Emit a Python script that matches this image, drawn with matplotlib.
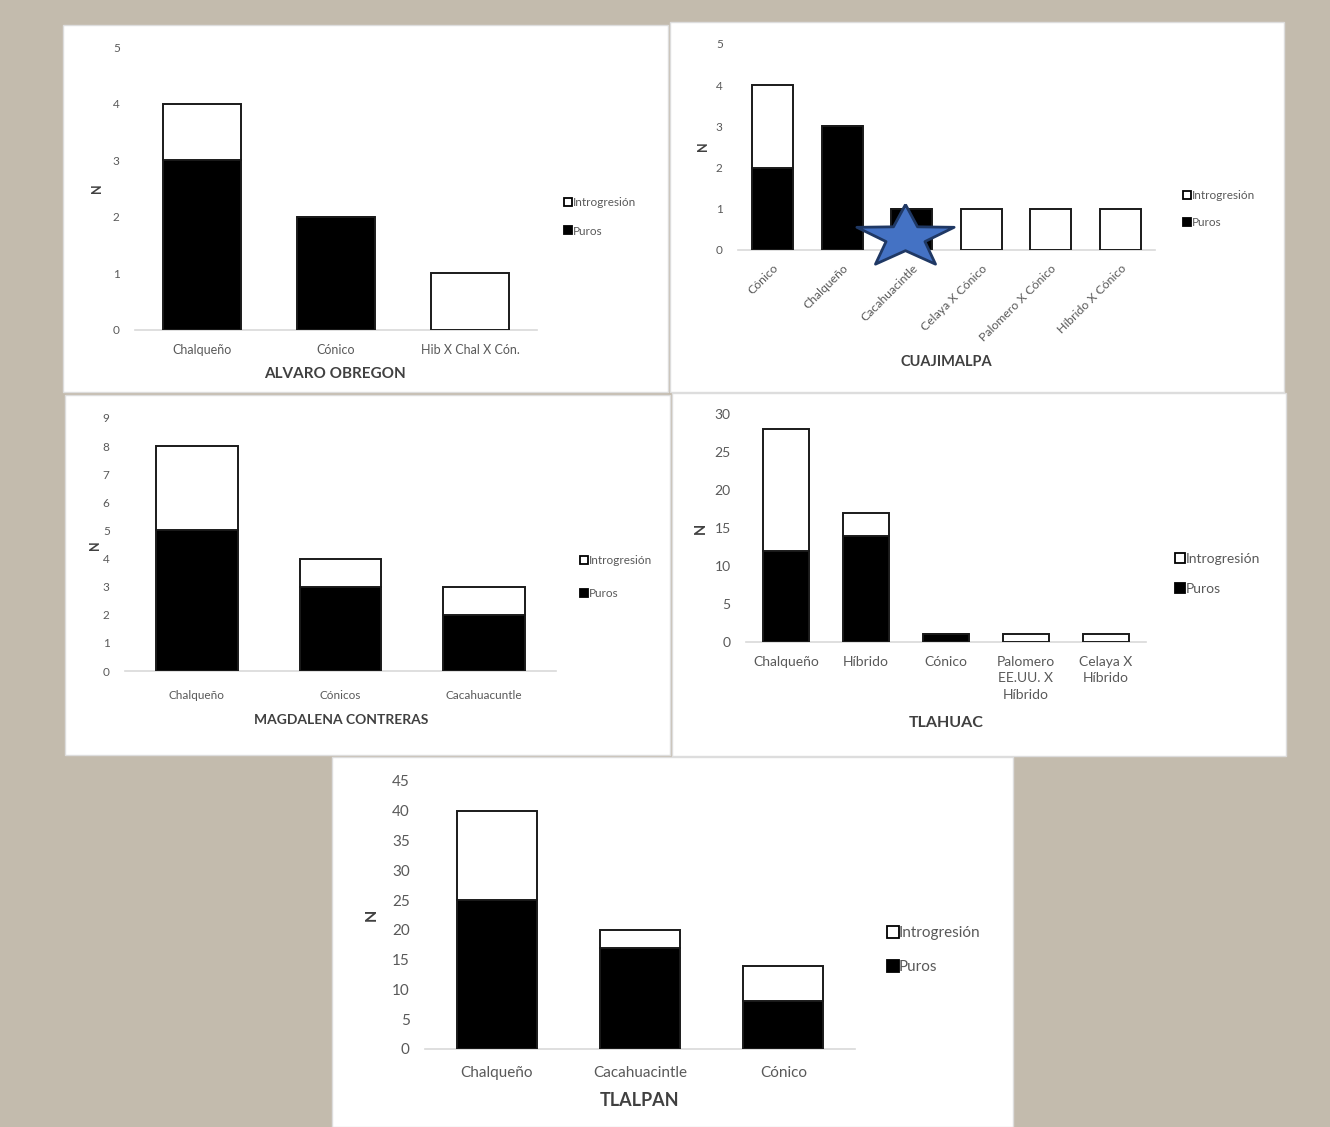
import matplotlib
matplotlib.use('Agg')
import matplotlib.pyplot as plt
from matplotlib.lines import Line2D
from matplotlib.patches import Rectangle
from matplotlib import font_manager
import numpy as np

# ---------------- data ----------------
legend_labels = ['Introgresión', 'Puros']

ao_cats = ['Chalqueño', 'Cónico', 'Hib X Chal X Cón.']
ao_puros = [3, 2, 0]
ao_intro = [1, 0, 1]

cu_cats = ['Cónico', 'Chalqueño', 'Cacahuacintle', 'Celaya X Cónico',
           'Palomero X Cónico', 'Híbrido X Cónico']
cu_puros = [2, 3, 1, 0, 0, 0]
cu_intro = [2, 0, 0, 1, 1, 1]

mc_cats = ['Chalqueño', 'Cónicos', 'Cacahuacuntle']
mc_puros = [5, 3, 2]
mc_intro = [3, 1, 1]

tl_cats = ['Chalqueño', 'Híbrido', 'Cónico', 'Palomero\nEE.UU. X\nHíbrido', 'Celaya X\nHíbrido']
tl_puros = [12, 14, 1, 0, 0]
tl_intro = [16, 3, 0, 1, 1]

tp_cats = ['Chalqueño', 'Cacahuacintle', 'Cónico']
tp_puros = [25, 17, 8]
tp_intro = [15, 3, 6]

# ---------------- setup ----------------
W, H = 1330, 1127
names = {f.name for f in font_manager.fontManager.ttflist}
BASE = 'Lato' if 'Lato' in names else 'DejaVu Sans'
NARROW = 'Liberation Sans Narrow' if 'Liberation Sans Narrow' in names else BASE
plt.rcParams['font.family'] = [BASE, 'DejaVu Sans']

fig = plt.figure(figsize=(W / 100, H / 100), dpi=100)
fig.patch.set_facecolor('#c3bbad')

GREY = '#595959'
DARK = '#404040'
EDGE = '#1a1a1a'


def fx(x):
    return x / W


def fy(y):
    return 1 - y / H


def white_rect(x1, y1, x2, y2):
    fig.add_artist(Rectangle((fx(x1), fy(y2)), fx(x2 - x1), (y2 - y1) / H,
                             transform=fig.transFigure, facecolor='white',
                             edgecolor='#dddddd', lw=1, zorder=-1))


def panel(cats, puros, intro, box, ymax, ystep, width, title, title_xy, n_xy,
          leg_xy, fs_tick, fs_x, fs_title, fs_leg, leg_space, family=None,
          rot=0, xpad=8, lsp=1.15):
    left, right, y0, ytop = box
    ax = fig.add_axes([fx(left), fy(y0), fx(right - left), (y0 - ytop) / H])
    ax.set_facecolor('none')
    x = np.arange(len(cats))
    ax.bar(x, puros, width, color='black', edgecolor=EDGE, lw=1.4, zorder=3)
    ax.bar(x, intro, width, bottom=puros, color='white', edgecolor=EDGE, lw=1.4, zorder=3)
    ax.set_xlim(-0.5, len(cats) - 0.5)
    ax.set_ylim(0, ymax)
    ax.set_yticks(np.arange(0, ymax + 1, ystep))
    ax.set_xticks(x)
    fam = family if family else BASE
    if rot:
        ax.set_xticklabels(cats, rotation=rot, ha='right', rotation_mode='anchor',
                           family=fam)
    else:
        ax.set_xticklabels(cats, family=fam, linespacing=lsp)
    for lab in ax.get_yticklabels():
        lab.set_family(fam)
    for s in ['top', 'right', 'left']:
        ax.spines[s].set_visible(False)
    ax.spines['bottom'].set_color('#d9d9d9')
    ax.spines['bottom'].set_linewidth(1.2)
    ax.tick_params(axis='y', length=0, pad=11, labelsize=fs_tick, colors=GREY)
    ax.tick_params(axis='x', length=0, pad=xpad, labelsize=fs_x, colors=GREY)
    fig.text(fx(title_xy[0]), fy(title_xy[1]), title, ha='center', va='center',
             fontsize=fs_title, weight='bold', color=DARK, family=fam)
    fig.text(fx(n_xy[0]), fy(n_xy[1]), 'N', ha='center', va='center', rotation=90,
             fontsize=fs_tick + 0.5, weight='bold', color=DARK, family=fam)
    handles = [Line2D([], [], ls='none', marker='s', ms=fs_leg * 0.75, mfc='white',
                      mec='black', mew=1.3),
               Line2D([], [], ls='none', marker='s', ms=fs_leg * 0.75, mfc='black',
                      mec='black', mew=1.3)]
    ax.legend(handles, legend_labels, loc='center left',
              bbox_to_anchor=(fx(leg_xy[0]), fy(leg_xy[1])),
              bbox_transform=fig.transFigure, frameon=False,
              prop={'family': fam, 'size': fs_leg}, labelcolor=GREY,
              handlelength=0.6, handletextpad=0.12, labelspacing=leg_space,
              borderpad=0, borderaxespad=0)
    return ax


# panel backgrounds
white_rect(63, 25, 668, 392)
white_rect(670, 22, 1284, 392)
white_rect(65, 395, 670, 755)
white_rect(672, 393, 1286, 756)
white_rect(332, 757, 1013, 1127)

panel(ao_cats, ao_puros, ao_intro, (135, 537, 330, 47), 5, 1, 0.575,
      'ALVARO OBREGON', (335, 374), (97, 188), (564, 217),
      8.5, 9, 11, 8.5, 1.45, xpad=10)

ax_cu = panel(cu_cats, cu_puros, cu_intro, (738, 1155, 250, 44), 5, 1, 0.59,
              'CUAJIMALPA', (946, 362), (703, 146), (1183, 209),
              8.5, 8.8, 10.5, 8.5, 1.4, rot=45, xpad=9)

panel(mc_cats, mc_puros, mc_intro, (125, 556, 671, 418), 9, 1, 0.57,
      'MAGDALENA CONTRERAS', (341, 720), (95, 545), (580, 577),
      8.5, 8.5, 10, 8.5, 1.9, family=NARROW, xpad=14)

panel(tl_cats, tl_puros, tl_intro, (746, 1146, 642, 414), 30, 5, 0.58,
      'TLAHUAC', (946, 723), (701, 528), (1176, 574),
      10, 10, 11.5, 10, 1.3, xpad=10, lsp=1.45)

panel(tp_cats, tp_puros, tp_intro, (425, 855, 1049, 781), 45, 5, 0.56,
      'TLALPAN', (640, 1101), (372, 915), (888, 950),
      11, 11, 13, 11, 1.3, xpad=12)

# blue star annotation over Cacahuacintle (Cuajimalpa)
ang = np.deg2rad(90 + 36 * np.arange(10))
rad = np.where(np.arange(10) % 2 == 0, 1.0, 0.40)
star = list(zip(1.55 * rad * np.cos(ang), rad * np.sin(ang)))
star.append(star[0])
ax_cu.plot([cu_cats.index('Cacahuacintle') - 0.1], [0.32], ls='none', marker=star,
           ms=70, mfc='#4472c4', mec='#1f3864', mew=2, clip_on=False, zorder=6)

fig.savefig('out.png', dpi=100, facecolor=fig.get_facecolor())
